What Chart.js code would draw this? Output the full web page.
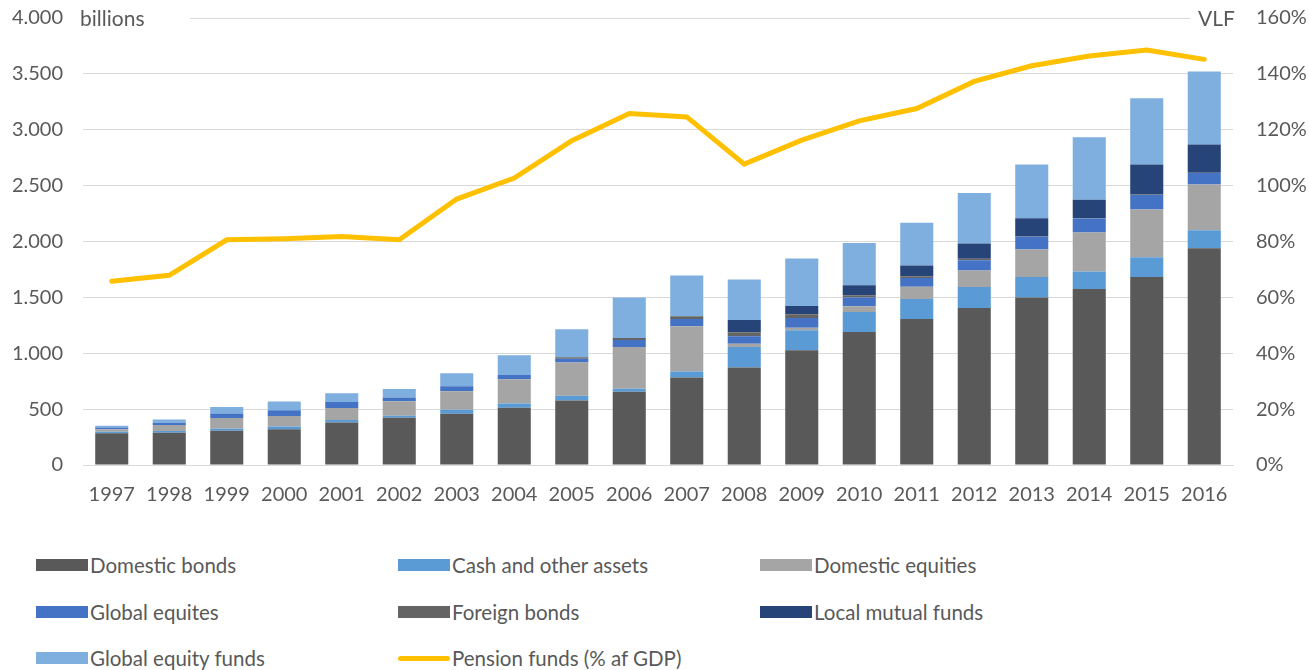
<!DOCTYPE html>
<html>
<head>
<meta charset="utf-8">
<script src="https://cdn.jsdelivr.net/npm/chart.js@4"></script>
<style>
  body { margin: 0; background: #fff; font-family: Lato, sans-serif; color: #595959; }
  #wrap { position: relative; width: 1309px; height: 670px; overflow: hidden; }
  #box { position: absolute; left: 0; top: -17px; width: 1309px; height: 527px; }
  .unit { position: absolute; background: #fff; font-size: 21px; line-height: 22px; color: #595959; }
  .item { position: absolute; font-size: 20.5px; line-height: 20px; white-space: nowrap; }
  .sw { position: absolute; left: -54px; top: 4px; width: 52px; height: 12px; }
</style>
</head>
<body>
<div id="wrap">
  <div id="box"><canvas id="myChart"></canvas></div>
  <div class="unit" style="left:70px; top:7px; padding:0 46px 0 10px;">billions</div>
  <div class="unit" style="left:1190px; top:7px; padding:0 20px 0 8px;">VLF</div>
  <div id="legend"></div>
</div>
<script>
// Datos del gráfico
var years = ['1997', '1998', '1999', '2000', '2001', '2002', '2003', '2004', '2005', '2006',
             '2007', '2008', '2009', '2010', '2011', '2012', '2013', '2014', '2015', '2016'];
var domesticBonds = [283, 289, 307, 321, 381, 423, 458, 512, 577, 655, 783, 872, 1027, 1190, 1307, 1405, 1500, 1574, 1682, 1940];
var cashOther = [15, 15, 17, 24, 21, 17, 36, 39, 42, 27, 53, 185, 178, 179, 178, 187, 182, 158, 178, 161];
var domesticEquities = [23, 53, 96, 93, 107, 131, 167, 217, 298, 375, 405, 29, 24, 51, 110, 149, 247, 348, 426, 408];
var globalEquites = [15, 21, 41, 53, 54, 33, 44, 39, 33, 62, 66, 66, 86, 80, 78, 92, 113, 125, 131, 104];
var foreignBonds = [0, 0, 0, 0, 0, 0, 0, 0, 14, 18, 23, 36, 33, 20, 15, 12, 3, 3, 3, 3];
var localMutualFunds = [0, 0, 0, 0, 0, 0, 0, 0, 0, 0, 0, 110, 75, 89, 98, 137, 164, 165, 268, 253];
var globalEquityFunds = [15, 30, 57, 78, 80, 75, 116, 175, 250, 363, 366, 363, 425, 378, 381, 453, 479, 559, 593, 652];
var pensionGdp = [65.8, 67.9, 80.6, 81.0, 81.8, 80.6, 95.2, 102.7, 116.1, 125.8, 124.6, 107.7, 116.3, 123.2, 127.6, 137.3, 142.9, 146.4, 148.5, 145.2];

function bar(label, data, color) {
    return {
        type: 'bar', label: label, data: data, yAxisID: 'y',
        backgroundColor: color, borderWidth: 0,
        barPercentage: 0.575, categoryPercentage: 1, order: 1
    };
}

var data = {
    labels: years,
    datasets: [
        bar('Domestic bonds', domesticBonds, '#595959'),
        bar('Cash and other assets', cashOther, '#5B9BD5'),
        bar('Domestic equities', domesticEquities, '#A5A5A5'),
        bar('Global equites', globalEquites, '#4472C4'),
        bar('Foreign bonds', foreignBonds, '#646464'),
        bar('Local mutual funds', localMutualFunds, '#264478'),
        bar('Global equity funds', globalEquityFunds, '#7FAFDE'),
        {
            type: 'line', label: 'Pension funds (% af GDP)', data: pensionGdp, yAxisID: 'y2',
            borderColor: '#FFC000', backgroundColor: '#FFC000', borderWidth: 5,
            pointRadius: 0, tension: 0, borderCapStyle: 'round', order: 0
        }
    ]
};

var tickFont = { family: 'Lato', size: 20 };

var ctx = document.getElementById('myChart').getContext('2d');
var myChart = new Chart(ctx, {
    data: data,
    options: {
        responsive: true,
        maintainAspectRatio: false,
        animation: false,
        layout: { padding: { top: 7, right: 0, left: 0, bottom: 0 } },
        plugins: { legend: { display: false }, tooltip: { enabled: false } },
        scales: {
            x: {
                stacked: true,
                grid: { display: false },
                border: { color: '#d9d9d9' },
                ticks: { color: '#595959', font: tickFont, padding: 10, maxRotation: 0 },
                afterFit: function (s) { s.height = 45; }
            },
            y: {
                stacked: true, position: 'left', min: 0, max: 4000,
                grid: { color: '#d9d9d9', drawTicks: false },
                border: { display: false },
                ticks: {
                    stepSize: 500, color: '#595959', font: tickFont, padding: 20,
                    callback: function (v) { return String(v).replace(/\B(?=(\d{3})+(?!\d))/g, '.'); }
                },
                afterFit: function (s) { s.width = 83; }
            },
            y2: {
                position: 'right', min: 0, max: 160,
                grid: { display: false, drawTicks: false },
                border: { display: false },
                ticks: {
                    stepSize: 20, color: '#595959', font: tickFont, padding: 23,
                    callback: function (v) { return v + '%'; }
                },
                afterFit: function (s) { s.width = 76; }
            }
        }
    }
});

// Leyenda en tres columnas
var legend = document.getElementById('legend');
var colX = [90, 452, 814];
var rowY = [555, 602, 648];
data.datasets.forEach(function (ds, i) {
    var item = document.createElement('div');
    item.className = 'item';
    item.style.left = colX[i % 3] + 'px';
    item.style.top = rowY[Math.floor(i / 3)] + 'px';
    var sw = document.createElement('span');
    sw.className = 'sw';
    sw.style.background = ds.backgroundColor;
    if (ds.type === 'line') { sw.style.height = '5px'; sw.style.top = '8px'; sw.style.borderRadius = '3px'; }
    item.appendChild(sw);
    item.appendChild(document.createTextNode(ds.label));
    legend.appendChild(item);
});
</script>
</body>
</html>
